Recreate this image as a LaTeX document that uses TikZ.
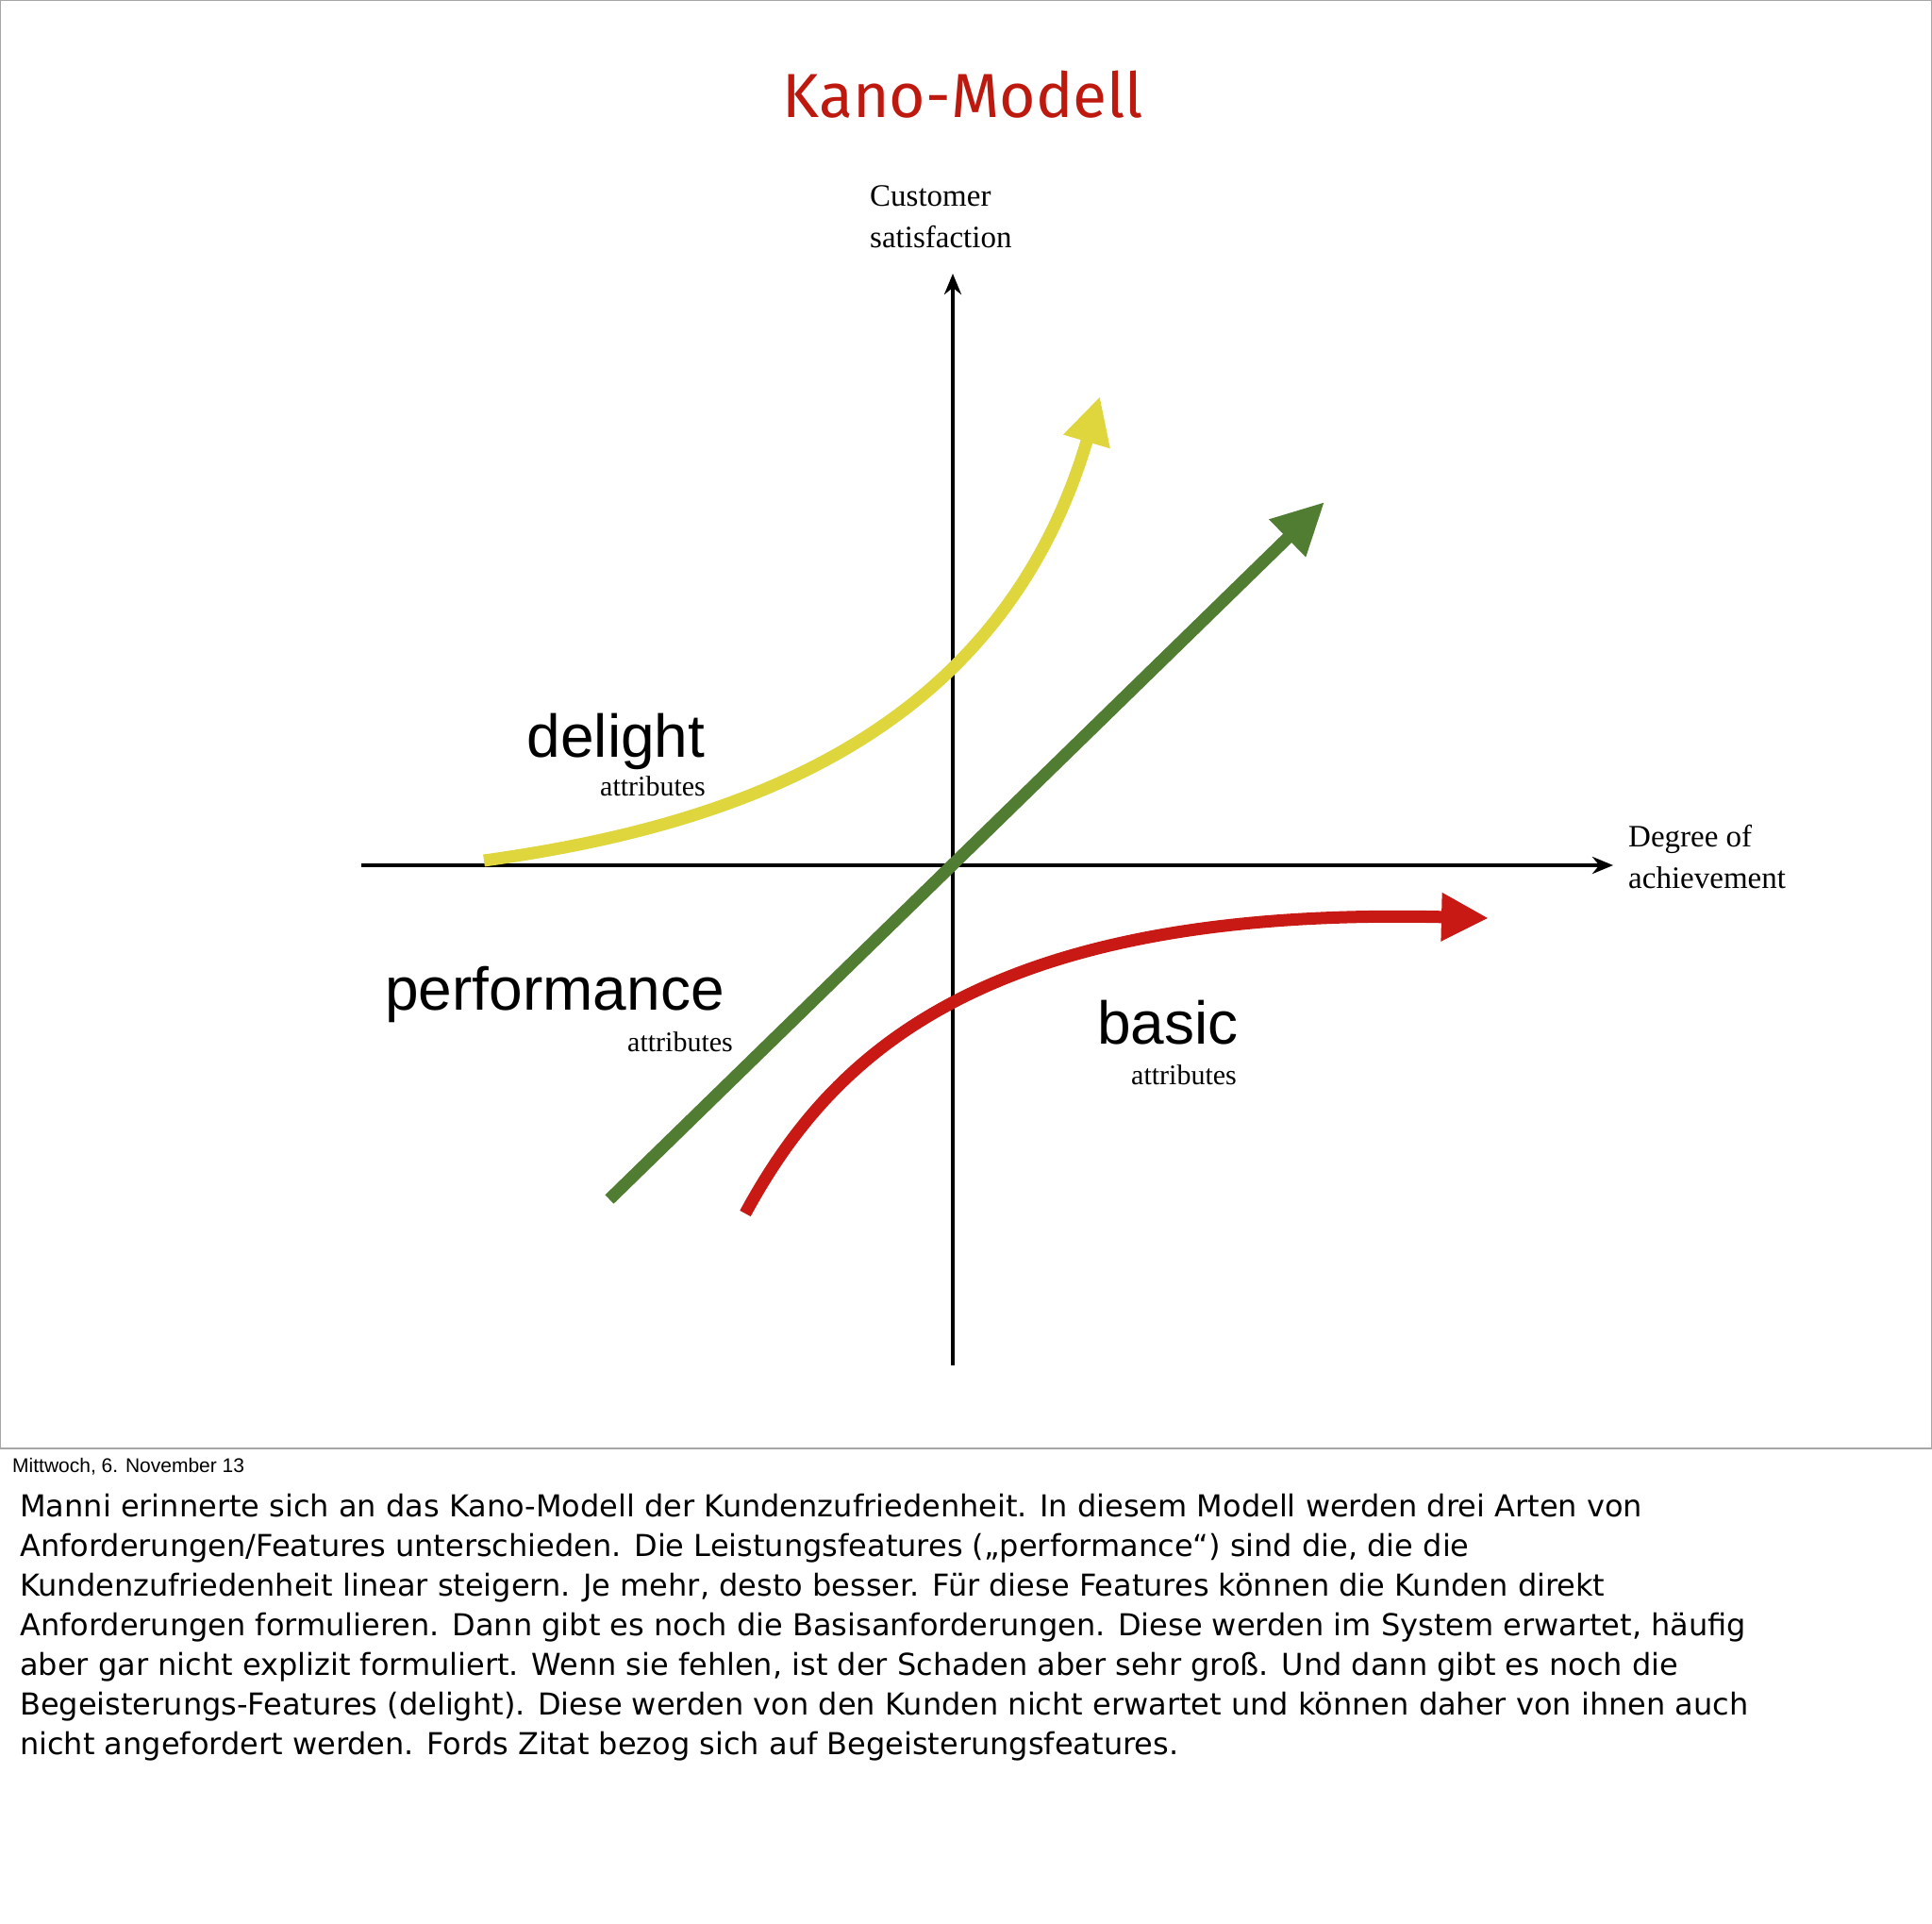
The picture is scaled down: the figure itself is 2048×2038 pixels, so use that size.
\documentclass[tikz,border=0pt]{standalone}
\usepackage{fontspec}
\setmainfont{Liberation Serif}
\newfontfamily\helv{Liberation Sans}
\newfontfamily\body{DejaVu Sans}
\newfontfamily\titlef{Fira Sans}
\usetikzlibrary{arrows.meta}
\definecolor{kred}{RGB}{190,25,15}
\definecolor{kyel}{RGB}{222,214,60}
\definecolor{kgrn}{RGB}{80,125,50}
\definecolor{kcur}{RGB}{200,25,20}
\tikzset{
  axis/.style={line width=4pt,-{Stealth[length=22pt,width=18pt]}},
  curve/.style={line width=13pt,-{Triangle[length=50pt,width=48pt]}},
  big/.style={font=\helv\fontsize{64}{70}\selectfont,anchor=base},
  small/.style={font=\fontsize{30}{32}\selectfont,anchor=base},
  axlab/.style={font=\fontsize{33}{44}\selectfont,anchor=north west,align=left,inner sep=0pt},
  para/.style={font=\body\fontsize{32}{36}\selectfont,anchor=base west,inner sep=0pt}
}
\begin{document}
\begin{tikzpicture}[x=1pt,y=-1pt]
\useasboundingbox (0,0) rectangle (2048,2038);
\draw[gray!70,line width=1.5pt] (0,0) rectangle (2048,1535);
\node[font=\titlef\fontsize{66}{70}\selectfont,text=kred] (title) at (1021,100) {Kano-Modell};
\coordinate (ybot) at (1010,1447); \coordinate (ytop) at (1010,290);
\coordinate (xl) at (383,917); \coordinate (xr) at (1710,917);
\draw[axis] (ybot) -- (ytop);
\draw[axis] (xl) -- (xr);
\node[axlab] (ylab) at (922,196) {Customer\\satisfaction};
\node[axlab] (xlab) at (1726,874) {Degree of\\achievement};
\coordinate (y0) at (513,912); \coordinate (y1) at (1166,420);
\draw[curve,kyel] (y0) .. controls (780,875) and (1060,780) .. (y1);
\coordinate (g0) at (646,1271); \coordinate (g1) at (1404,532);
\draw[curve,kgrn,-{Triangle[length=55pt,width=52pt]}] (g0) -- (g1);
\coordinate (r0) at (790,1286); \coordinate (r1) at (1578,973);
\draw[curve,kcur] (r0) .. controls (880,1120) and (1040,960) .. (r1);
\node[big] (dl) at (653,802) {delight};
\node[small] (da) at (692,843) {attributes};
\node[big] (pf) at (588,1070) {performance};
\node[small] (pa) at (721,1114) {attributes};
\node[big] (bs) at (1238,1106) {basic};
\node[small] (ba) at (1255,1149) {attributes};
\node[font=\helv\fontsize{21}{24}\selectfont,anchor=base west,inner sep=0pt] (date) at (13,1560) {Mittwoch, 6. November 13};
\node[para] (l1) at (21,1607) {Manni erinnerte sich an das Kano-Modell der Kundenzufriedenheit. In diesem Modell werden drei Arten von};
\node[para] (l2) at (21,1649) {Anforderungen/Features unterschieden. Die Leistungsfeatures („performance“) sind die, die die};
\node[para] (l3) at (21,1691) {Kundenzufriedenheit linear steigern. Je mehr, desto besser. Für diese Features können die Kunden direkt};
\node[para] (l4) at (21,1733) {Anforderungen formulieren. Dann gibt es noch die Basisanforderungen. Diese werden im System erwartet, häufig};
\node[para] (l5) at (21,1775) {aber gar nicht explizit formuliert. Wenn sie fehlen, ist der Schaden aber sehr groß. Und dann gibt es noch die};
\node[para] (l6) at (21,1817) {Begeisterungs-Features (delight). Diese werden von den Kunden nicht erwartet und können daher von ihnen auch};
\node[para] (l7) at (21,1859) {nicht angefordert werden. Fords Zitat bezog sich auf Begeisterungsfeatures.};
\end{tikzpicture}
\end{document}
